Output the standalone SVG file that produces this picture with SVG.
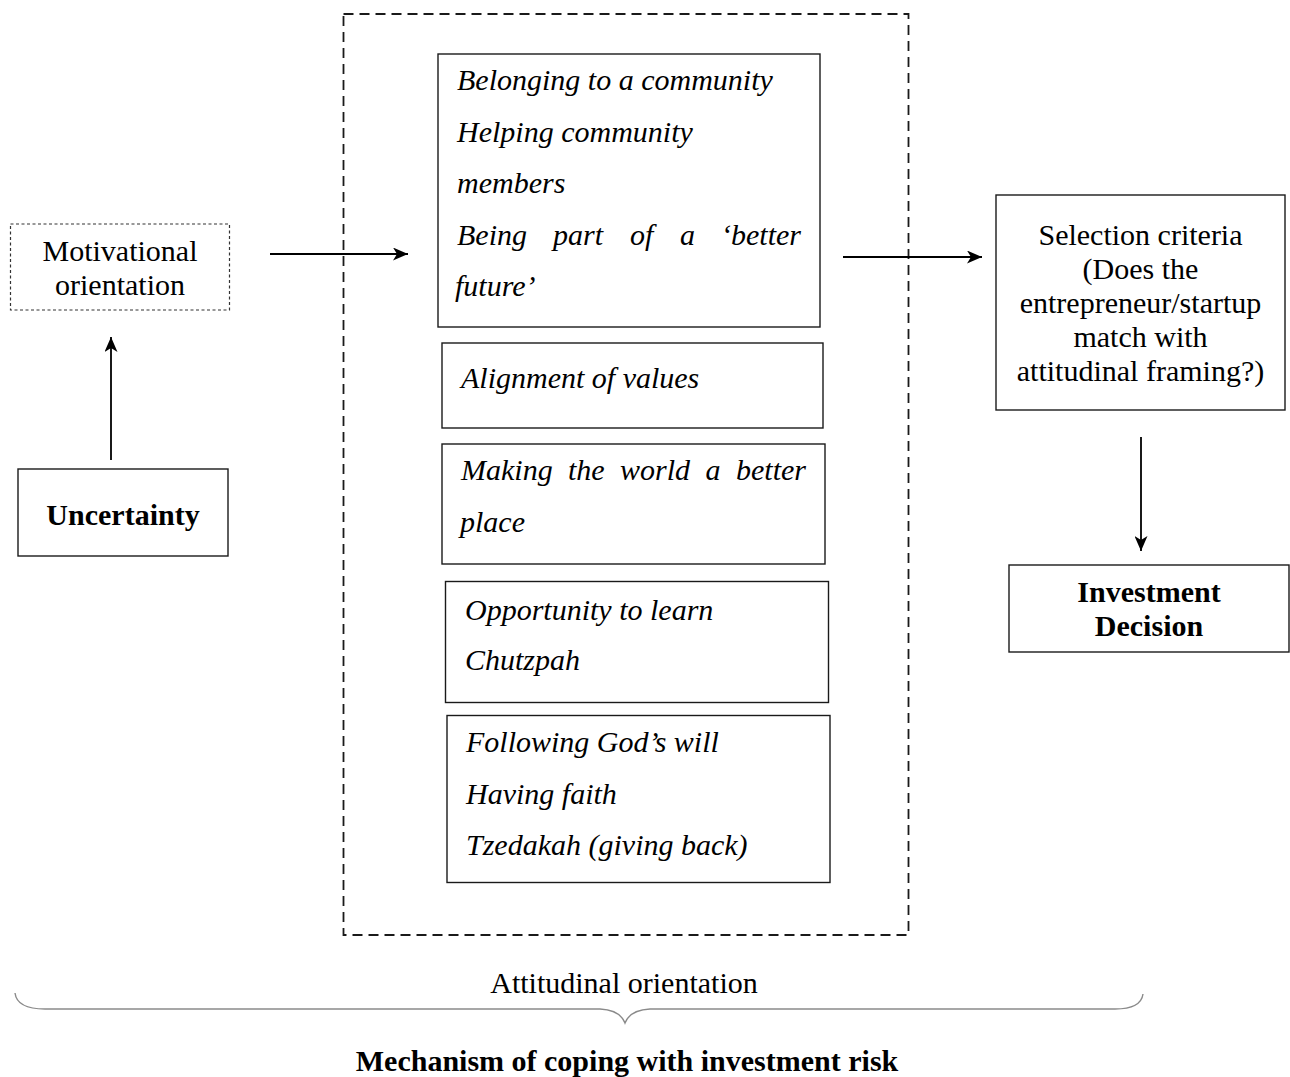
<svg xmlns="http://www.w3.org/2000/svg" width="1290" height="1077" viewBox="0 0 1290 1077">
<style>
  .box{fill:#fff;stroke:#1a1a1a;stroke-width:1.4}
  .t{font-family:"Liberation Serif","Times New Roman",serif;font-size:30px;fill:#000}
  .i{font-style:italic}
  .b{font-weight:bold}
  .c{text-anchor:middle}
  .e{text-anchor:end}
  .conn{stroke:#000;stroke-width:1.8;fill:none}
</style>
<defs>
  <marker id="ah" viewBox="0 0 15 13" refX="15" refY="6.5" markerWidth="15" markerHeight="13" markerUnits="userSpaceOnUse" orient="auto">
    <path d="M0,0 L15,6.5 L0,13 L4,6.5 Z" fill="#000"/>
  </marker>
</defs>
<rect width="1290" height="1077" fill="#fff"/>

<g id="attitudinal-frame">
  <rect x="343.5" y="14" width="565" height="921" fill="none" stroke="#1a1a1a" stroke-width="1.8" stroke-dasharray="10,6"/>
</g>

<g id="motivational">
  <rect x="10.5" y="224" width="219" height="86" fill="#fff" stroke="#333" stroke-width="1.2" stroke-dasharray="3,2.5"/>
  <text class="t c" x="120" y="261">Motivational</text>
  <text class="t c" x="120" y="295">orientation</text>
</g>

<g id="uncertainty">
  <rect class="box" x="18" y="469" width="210" height="87"/>
  <text class="t b c" x="123" y="525">Uncertainty</text>
</g>

<g id="community">
  <rect class="box" x="438" y="54" width="382" height="273"/>
  <text class="t i" x="457" y="90">Belonging to a community</text>
  <text class="t i" x="457" y="141.5">Helping community</text>
  <text class="t i" x="457" y="193">members</text>
  <text class="t i" y="244.5"><tspan x="457">Being</tspan><tspan x="553">part</tspan><tspan x="630">of</tspan><tspan x="680">a</tspan></text>
  <text class="t i e" x="801" y="244.5">‘better</text>
  <text class="t i" x="455" y="296">future’</text>
</g>

<g id="alignment">
  <rect class="box" x="442" y="343" width="381" height="85"/>
  <text class="t i" x="461" y="388">Alignment of values</text>
</g>

<g id="better-world">
  <rect class="box" x="442" y="444" width="383" height="120"/>
  <text class="t i" y="480"><tspan x="461">Making</tspan><tspan x="568">the</tspan><tspan x="620">world</tspan><tspan x="705.5">a</tspan></text>
  <text class="t i e" x="806" y="480">better</text>
  <text class="t i" x="460" y="532">place</text>
</g>

<g id="learn">
  <rect class="box" x="445.5" y="581.5" width="383" height="121"/>
  <text class="t i" x="465" y="620">Opportunity to learn</text>
  <text class="t i" x="465" y="670">Chutzpah</text>
</g>

<g id="faith">
  <rect class="box" x="447" y="715.5" width="383" height="167"/>
  <text class="t i" x="466" y="752">Following God’s will</text>
  <text class="t i" x="466" y="803.5">Having faith</text>
  <text class="t i" x="466" y="855">Tzedakah (giving back)</text>
</g>

<g id="selection">
  <rect class="box" x="996" y="195" width="289" height="215"/>
  <text class="t c" x="1140.5" y="245">Selection criteria</text>
  <text class="t c" x="1140.5" y="279">(Does the</text>
  <text class="t c" x="1140.5" y="313">entrepreneur/startup</text>
  <text class="t c" x="1140.5" y="347">match with</text>
  <text class="t c" x="1140.5" y="381">attitudinal framing?)</text>
</g>

<g id="decision">
  <rect class="box" x="1009" y="565" width="280" height="87"/>
  <text class="t b c" x="1149" y="602">Investment</text>
  <text class="t b c" x="1149" y="636">Decision</text>
</g>

<g id="brace">
  <path d="M15,993 Q17,1009 45,1009 L600,1009 Q620,1010 625,1023 Q630,1010 650,1009 L1115,1009 Q1141,1009 1143,994" fill="none" stroke="#8a8a8a" stroke-width="1.4"/>
  <text class="t c" x="624" y="993">Attitudinal orientation</text>
  <text class="t b c" x="627" y="1071">Mechanism of coping with investment risk</text>
</g>

<g id="connectors">
  <line class="conn" x1="111" y1="460" x2="111" y2="337" marker-end="url(#ah)"/>
  <line class="conn" x1="270" y1="254" x2="408" y2="254" marker-end="url(#ah)"/>
  <line class="conn" x1="843" y1="257" x2="982" y2="257" marker-end="url(#ah)"/>
  <line class="conn" x1="1141" y1="437" x2="1141" y2="551" marker-end="url(#ah)"/>
</g>
</svg>
